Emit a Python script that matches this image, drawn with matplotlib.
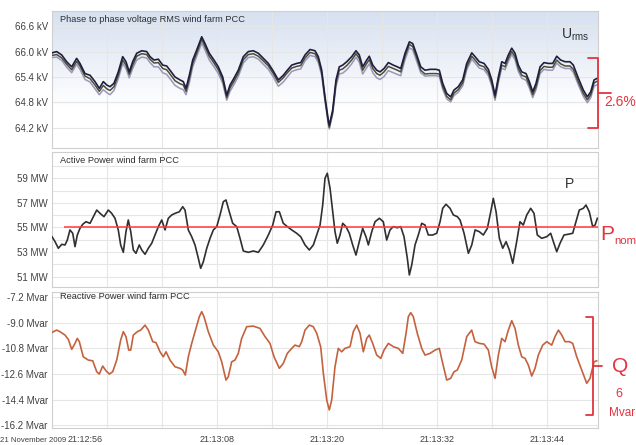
import datetime as dt
import numpy as np
import matplotlib
matplotlib.use("Agg")
import matplotlib.pyplot as plt
from matplotlib.lines import Line2D

plt.rcParams['font.family'] = ['Liberation Sans', 'DejaVu Sans']

# time axis: seconds after 21:12:50
start = dt.datetime(2009, 11, 21, 21, 12, 50)
t_end = 59.56
tick_sec = [6, 18, 30, 42, 54]
grid_sec = [6, 12, 18, 24, 30, 36, 42, 48, 54]

# phase-to-phase RMS voltage (kV), three phases
t_u = [0.00, 0.51, 1.06, 1.60, 2.15, 2.69, 3.05, 3.60, 4.15, 4.69, 5.16, 5.60, 5.97, 6.33, 6.76,
       7.23, 7.71, 8.07, 8.43, 8.80, 9.24, 9.79, 10.33, 10.69, 11.13, 11.60, 12.08, 12.51, 12.87,
       13.42, 13.96, 14.32, 14.62, 14.98, 15.35, 15.79, 16.33, 16.69, 17.16, 17.67, 18.14, 18.62,
       19.06, 19.42, 19.85, 20.32, 20.87, 21.41, 21.96, 22.51, 23.05, 23.60, 24.08, 24.69, 25.23,
       25.67, 26.15, 26.69, 27.13, 27.60, 28.15, 28.69, 29.05, 29.42, 29.78, 30.14, 30.25, 30.62,
       30.98, 31.34, 31.71, 32.15, 32.69, 33.16, 33.52, 33.89, 34.33, 34.61, 34.99, 35.42, 35.78,
       36.22, 36.69, 37.23, 37.67, 38.04, 38.51, 38.98, 39.35, 39.79, 40.22, 40.69, 41.24, 41.89,
       42.25, 42.62, 43.06, 43.49, 43.85, 44.32, 44.80, 45.24, 45.79, 46.15, 46.61, 47.13, 47.60,
       47.97, 48.33, 48.69, 49.06, 49.42, 49.78, 50.15, 50.51, 50.87, 51.24, 51.71, 52.07, 52.44,
       52.80, 53.24, 53.67, 54.14, 54.62, 55.06, 55.49, 55.96, 56.51, 56.87, 57.42, 57.96, 58.40,
       58.77, 59.13, 59.49]
u_l1 = [65.97, 66.00, 65.92, 65.76, 65.64, 65.84, 65.72, 65.48, 65.44, 65.29, 65.13, 65.29, 65.21,
        65.17, 65.25, 65.52, 65.88, 65.76, 65.52, 65.76, 65.96, 66.02, 66.00, 65.88, 65.80, 65.82,
        65.68, 65.66, 65.56, 65.40, 65.33, 65.29, 65.13, 65.44, 65.80, 66.04, 66.35, 66.19, 65.96,
        65.80, 65.64, 65.40, 64.97, 65.21, 65.37, 65.56, 65.88, 66.00, 66.02, 65.96, 65.84, 65.72,
        65.56, 65.33, 65.44, 65.56, 65.68, 65.72, 65.74, 65.92, 66.05, 66.02, 65.88, 65.56, 64.93,
        64.38, 64.26, 64.62, 65.33, 65.64, 65.68, 65.76, 65.88, 66.02, 65.92, 65.64, 65.80, 65.89,
        65.68, 65.56, 65.52, 65.60, 65.74, 65.68, 65.64, 65.60, 65.96, 66.23, 66.19, 65.92, 65.64,
        65.56, 65.58, 65.58, 65.56, 65.25, 65.01, 64.93, 65.09, 65.17, 65.33, 65.72, 65.97, 65.88,
        65.76, 65.72, 65.58, 65.33, 64.97, 65.40, 65.76, 65.72, 65.92, 66.08, 65.96, 65.68, 65.52,
        65.48, 65.29, 65.05, 65.25, 65.64, 65.74, 65.72, 65.72, 65.89, 65.80, 65.76, 65.76, 65.68,
        65.37, 65.09, 64.93, 65.05, 65.33, 65.37]
u_l2 = [65.91, 65.93, 65.85, 65.70, 65.57, 65.77, 65.66, 65.42, 65.36, 65.21, 65.06, 65.20, 65.12,
        65.08, 65.17, 65.44, 65.80, 65.68, 65.46, 65.68, 65.89, 65.95, 65.93, 65.82, 65.73, 65.74,
        65.60, 65.57, 65.47, 65.31, 65.24, 65.21, 65.06, 65.36, 65.72, 65.97, 66.29, 66.12, 65.89,
        65.73, 65.57, 65.33, 64.91, 65.14, 65.30, 65.49, 65.81, 65.93, 65.95, 65.89, 65.78, 65.66,
        65.50, 65.27, 65.38, 65.50, 65.61, 65.65, 65.67, 65.85, 65.98, 65.95, 65.81, 65.50, 64.88,
        64.33, 64.21, 64.57, 65.26, 65.56, 65.59, 65.67, 65.80, 65.95, 65.84, 65.56, 65.72, 65.81,
        65.60, 65.48, 65.44, 65.52, 65.65, 65.60, 65.56, 65.52, 65.89, 66.17, 66.12, 65.85, 65.56,
        65.47, 65.48, 65.48, 65.47, 65.17, 64.94, 64.86, 65.02, 65.10, 65.26, 65.64, 65.89, 65.80,
        65.68, 65.64, 65.50, 65.26, 64.91, 65.33, 65.68, 65.64, 65.84, 66.00, 65.88, 65.60, 65.44,
        65.40, 65.21, 64.98, 65.17, 65.55, 65.65, 65.63, 65.63, 65.80, 65.71, 65.66, 65.66, 65.58,
        65.28, 65.01, 64.86, 64.98, 65.26, 65.30]
u_l3 = [65.86, 65.87, 65.79, 65.63, 65.50, 65.70, 65.58, 65.34, 65.28, 65.12, 64.98, 65.10, 65.03,
        64.98, 65.08, 65.36, 65.72, 65.60, 65.38, 65.60, 65.80, 65.87, 65.85, 65.74, 65.64, 65.64,
        65.50, 65.46, 65.36, 65.20, 65.13, 65.10, 64.98, 65.26, 65.64, 65.89, 66.20, 66.04, 65.80,
        65.64, 65.48, 65.25, 64.85, 65.06, 65.22, 65.41, 65.73, 65.86, 65.88, 65.82, 65.70, 65.58,
        65.42, 65.18, 65.28, 65.40, 65.53, 65.57, 65.59, 65.78, 65.91, 65.88, 65.74, 65.43, 64.82,
        64.28, 64.17, 64.52, 65.18, 65.47, 65.49, 65.57, 65.71, 65.87, 65.75, 65.47, 65.62, 65.71,
        65.50, 65.38, 65.34, 65.41, 65.55, 65.50, 65.46, 65.43, 65.81, 66.09, 66.04, 65.77, 65.50,
        65.42, 65.43, 65.43, 65.41, 65.11, 64.88, 64.81, 64.96, 65.04, 65.19, 65.57, 65.82, 65.73,
        65.61, 65.57, 65.43, 65.19, 64.85, 65.26, 65.61, 65.57, 65.77, 65.93, 65.81, 65.53, 65.37,
        65.32, 65.14, 64.91, 65.10, 65.48, 65.58, 65.56, 65.56, 65.73, 65.64, 65.60, 65.60, 65.51,
        65.21, 64.94, 64.79, 64.91, 65.18, 65.22]

# active power (MW)
t_p = [0.00, 0.33, 0.69, 1.06, 1.42, 1.67, 1.96, 2.26, 2.51, 2.76, 3.05, 3.35, 3.71, 4.15, 4.51,
       4.88, 5.24, 5.67, 6.14, 6.51, 6.87, 7.23, 7.49, 7.78, 8.07, 8.32, 8.59, 8.87, 9.16, 9.52,
       9.79, 10.15, 10.51, 10.88, 11.24, 11.60, 11.97, 12.33, 12.69, 13.06, 13.42, 13.89, 14.26,
       14.51, 14.87, 15.24, 15.60, 15.96, 16.22, 16.51, 16.88, 17.24, 17.60, 17.97, 18.33, 18.69,
       18.98, 19.34, 19.71, 20.15, 20.51, 20.87, 21.41, 21.96, 22.51, 23.05, 23.60, 24.08, 24.44,
       24.80, 25.23, 25.67, 26.15, 26.69, 27.13, 27.60, 28.07, 28.51, 28.88, 29.24, 29.53, 29.78,
       30.03, 30.33, 30.62, 30.87, 31.12, 31.42, 31.71, 32.07, 32.43, 32.80, 33.16, 33.52, 33.89,
       34.25, 34.51, 34.88, 35.24, 35.71, 36.14, 36.51, 36.87, 37.23, 37.67, 38.04, 38.40, 38.76,
       38.98, 39.24, 39.60, 39.96, 40.33, 40.69, 41.05, 41.53, 41.97, 42.33, 42.62, 42.98, 43.42,
       43.78, 44.22, 44.51, 44.95, 45.42, 45.79, 46.15, 46.61, 47.05, 47.49, 47.86, 48.14, 48.44,
       48.80, 49.17, 49.53, 49.89, 50.26, 50.69, 51.05, 51.41, 51.79, 52.22, 52.58, 52.94, 53.42,
       53.97, 54.40, 54.69, 55.06, 55.42, 55.85, 56.32, 56.80, 57.16, 57.52, 57.96, 58.25, 58.61,
       58.98, 59.24, 59.49]
p_mw = [54.25, 53.85, 53.31, 53.63, 53.58, 53.98, 54.80, 54.53, 53.44, 54.39, 54.93, 55.26, 55.47,
        55.34, 55.88, 56.42, 56.15, 55.88, 56.42, 56.15, 55.75, 54.80, 53.58, 52.98, 54.66, 55.61,
        54.66, 53.17, 52.90, 53.58, 53.17, 52.82, 53.31, 53.72, 54.39, 55.07, 55.61, 54.80, 55.75,
        56.02, 56.15, 56.28, 56.69, 56.42, 54.80, 54.25, 53.58, 52.50, 51.68, 52.22, 53.31, 54.12,
        54.80, 55.07, 56.02, 57.10, 57.24, 56.28, 55.34, 55.07, 54.12, 53.09, 52.98, 53.09, 52.98,
        53.58, 54.39, 55.20, 56.28, 56.28, 55.34, 55.07, 54.80, 54.53, 54.25, 53.58, 53.17, 53.58,
        54.39, 55.20, 56.83, 59.00, 59.41, 58.19, 56.28, 54.66, 53.72, 54.39, 55.34, 55.07, 54.53,
        53.58, 52.76, 53.85, 54.93, 54.25, 53.58, 54.66, 55.47, 55.75, 55.47, 53.98, 54.80, 55.07,
        54.98, 55.07, 54.25, 52.50, 51.14, 51.95, 53.58, 54.39, 55.34, 55.20, 54.39, 54.39, 54.53,
        55.47, 56.56, 56.89, 56.56, 56.02, 55.88, 55.61, 54.53, 52.90, 53.58, 54.80, 54.66, 54.39,
        54.93, 56.28, 57.37, 56.28, 54.12, 53.31, 53.85, 53.17, 52.09, 53.85, 55.47, 55.20, 56.02,
        56.56, 56.15, 54.39, 54.12, 54.25, 54.53, 53.85, 53.03, 53.72, 54.39, 54.45, 54.53, 55.47,
        56.42, 56.56, 56.83, 56.28, 55.07, 55.20, 55.75]
p_nom = 55.0
p_nom_from = 1.3

# reactive power (Mvar)
t_q = [0.00, 0.51, 0.87, 1.42, 1.78, 2.15, 2.51, 2.76, 2.98, 3.41, 3.96, 4.44, 4.88, 5.16, 5.53,
       5.89, 6.25, 6.62, 7.06, 7.49, 7.78, 8.07, 8.37, 8.59, 8.87, 9.31, 9.68, 10.15, 10.51, 10.99,
       11.35, 11.78, 12.14, 12.44, 12.87, 13.42, 13.96, 14.26, 14.54, 14.87, 15.24, 15.71, 16.07,
       16.33, 16.58, 17.05, 17.60, 18.14, 18.51, 18.98, 19.23, 19.60, 19.96, 20.32, 20.69, 21.24,
       21.96, 22.69, 23.24, 23.78, 24.22, 24.80, 25.23, 25.67, 26.15, 26.51, 26.98, 27.24, 27.60,
       28.07, 28.50, 28.88, 29.31, 29.60, 29.97, 30.25, 30.51, 30.87, 31.23, 31.60, 31.96, 32.51,
       32.87, 33.24, 33.60, 33.96, 34.33, 34.61, 34.98, 35.42, 35.86, 36.22, 36.69, 37.23, 37.78,
       38.26, 38.62, 38.87, 39.13, 39.41, 39.85, 40.33, 40.69, 41.24, 41.78, 42.25, 42.62, 43.06,
       43.49, 43.85, 44.21, 44.69, 45.24, 45.78, 46.14, 46.61, 47.13, 47.60, 47.96, 48.33, 48.69,
       49.06, 49.42, 49.78, 50.15, 50.51, 50.87, 51.24, 51.60, 51.96, 52.33, 52.69, 53.05, 53.53,
       53.97, 54.51, 54.87, 55.24, 55.61, 55.96, 56.43, 56.80, 57.24, 57.78, 58.33, 58.69, 59.13,
       59.42]
q_mvar = [-9.69, -9.53, -9.64, -9.88, -10.18, -10.88, -10.46, -10.11, -10.34, -11.40, -11.63,
          -11.68, -12.45, -12.61, -12.05, -12.38, -12.61, -12.45, -11.63, -10.23, -9.64, -9.99,
          -10.93, -10.93, -9.88, -9.64, -9.53, -9.18, -9.53, -10.34, -10.41, -11.05, -11.40,
          -11.05, -11.63, -12.10, -12.21, -12.33, -12.68, -11.40, -10.46, -9.41, -8.59, -8.24,
          -8.59, -9.64, -10.58, -11.05, -11.75, -13.03, -12.80, -11.75, -11.63, -11.16, -10.11,
          -9.29, -9.25, -9.41, -9.99, -10.46, -11.40, -12.21, -11.86, -11.16, -10.81, -10.58,
          -10.69, -10.34, -9.53, -9.18, -9.29, -9.76, -10.70, -12.56, -14.43, -15.13, -14.43,
          -12.10, -10.81, -11.05, -10.81, -10.69, -9.64, -9.18, -9.76, -11.05, -10.11, -9.88,
          -10.46, -11.28, -11.51, -10.93, -10.46, -10.69, -10.81, -11.16, -9.76, -8.59, -8.31,
          -8.59, -9.76, -10.81, -11.28, -11.16, -10.93, -10.81, -11.86, -13.03, -12.91, -12.45,
          -12.33, -11.63, -9.99, -9.53, -10.34, -10.46, -10.51, -10.93, -12.10, -12.91, -11.28,
          -10.11, -10.34, -9.53, -8.87, -9.41, -10.58, -11.40, -11.51, -11.98, -12.75, -12.21,
          -11.28, -10.58, -10.34, -10.58, -9.99, -9.53, -9.88, -10.34, -10.34, -10.46, -11.40,
          -12.33, -13.26, -12.91, -11.75, -11.68]

u_ticks = [64.2, 64.8, 65.4, 66.0, 66.6]
p_ticks = [51, 53, 55, 57, 59]
p_grid = [51, 52, 53, 54, 55, 56, 57, 58, 59, 60]
q_ticks = [-16.2, -14.4, -12.6, -10.8, -9.0, -7.2]

W, H = 636, 445
fig = plt.figure(figsize=(W / 100, H / 100), dpi=100)

text_col = '#404040'
grid_col = '#e6e6e6'
red = '#e3343f'


def fx(px):
    return px / W


def fy(py):
    return 1 - py / H


def panel(top, bottom):
    ax = fig.add_axes([fx(52), fy(bottom), fx(598) - fx(52), fy(top) - fy(bottom)])
    for s in ax.spines.values():
        s.set_color('#cfcfcf')
        s.set_linewidth(0.8)
    ax.tick_params(length=0, labelsize=7, labelcolor=text_col, pad=3)
    ax.set_xlim(0, t_end)
    ax.set_xticks(grid_sec)
    ax.set_xticklabels([])
    ax.grid(True, color=grid_col, lw=0.8)
    ax.set_axisbelow(True)
    return ax


# voltage panel
ax1 = panel(11, 148)
grad = np.ones((200, 1, 3))
frac = np.clip(np.linspace(0, 1, 200) / 0.7, 0, 1)[:, None]
top_col = np.array([0.84, 0.88, 0.94])
grad[:, 0, :] = top_col * (1 - frac) + frac
ax1.imshow(grad, extent=[0, 1, 0, 1], transform=ax1.transAxes, aspect='auto', zorder=0)
ax1.plot(t_u, u_l3, color='#9a98b8', lw=1.1, zorder=3)
ax1.plot(t_u, u_l2, color='#4d4d35', lw=1.1, zorder=4)
ax1.plot(t_u, u_l1, color='#1e1e40', lw=1.2, zorder=5)
ax1.set_xlim(0, t_end)
ax1.set_ylim(63.72, 66.96)
ax1.set_yticks(u_ticks)
ax1.set_yticklabels([f"{v:.1f} kV" for v in u_ticks])
ax1.text(0.015, 0.935, 'Phase to phase voltage RMS wind farm PCC', transform=ax1.transAxes,
         fontsize=6.7, color='#303030', va='center')

# active power panel
ax2 = panel(152, 287)
ax2.plot(t_p, p_mw, color='#303030', lw=1.2, zorder=4)
ax2.hlines(p_nom, p_nom_from, t_end, color='#ff3b3b', lw=1.1, zorder=5)
ax2.set_ylim(50.16, 61.14)
ax2.set_yticks(p_grid)
ax2.set_yticklabels([f"{v} MW" if v in p_ticks else '' for v in p_grid])
ax2.text(0.015, 0.94, 'Active Power wind farm PCC', transform=ax2.transAxes,
         fontsize=6.7, color='#303030', va='center')

# reactive power panel
ax3 = panel(292, 428)
ax3.plot(t_q, q_mvar, color='#c4623f', lw=1.2, zorder=4)
ax3.set_ylim(-16.39, -6.86)
ax3.set_yticks(q_ticks)
ax3.set_yticklabels([f"{v:.1f} Mvar" for v in q_ticks])
ax3.text(0.015, 0.965, 'Reactive Power wind farm PCC', transform=ax3.transAxes,
         fontsize=6.7, color='#303030', va='center')

# time labels under the bottom panel
for s in tick_sec:
    lab = (start + dt.timedelta(seconds=s)).strftime('%H:%M:%S')
    px = 52 + s * 546 / t_end
    fig.text(fx(px - 4 if s == tick_sec[0] else px), fy(440), lab,
             ha='right' if s == tick_sec[0] else 'center',
             va='center', fontsize=6.5, color=text_col)
fig.text(0.0, fy(440), start.strftime('%d %B %Y').lstrip('0'), ha='left', va='center',
         fontsize=5.6, color=text_col)

# annotations on the right
fig.text(fx(575), fy(35), r'$\mathregular{U_{rms}}$', ha='center', va='center',
         fontsize=10, color='#303030')
fig.text(fx(570), fy(184), 'P', ha='center', va='center', fontsize=10, color='#303030')


def brace(x, y0, y1, ymid, hook, nib):
    kw = dict(color=red, lw=1.3, transform=fig.transFigure, solid_capstyle='round')
    fig.add_artist(Line2D([fx(x - hook), fx(x), fx(x), fx(x - hook)],
                          [fy(y0), fy(y0), fy(y1), fy(y1)], **kw))
    fig.add_artist(Line2D([fx(x), fx(x + nib)], [fy(ymid), fy(ymid)], **kw))


brace(598, 58, 128, 93, 10, 13)
fig.text(fx(604), fy(102), '2.6%', ha='left', va='center', fontsize=10, color=red)

fig.text(fx(600), fy(234), 'P', ha='left', va='center', fontsize=15, color=red)
fig.text(fx(614), fy(241), 'nom', ha='left', va='center', fontsize=8.2, color=red)

brace(593, 317, 415, 366, 7, 9)
fig.text(fx(612), fy(367), 'Q', ha='left', va='center', fontsize=15, color=red)
fig.text(fx(619), fy(394), '6', ha='center', va='center', fontsize=9, color=red)
fig.text(fx(622), fy(413), 'Mvar', ha='center', va='center', fontsize=8.5, color=red)

fig.savefig('out.png', dpi=100)
